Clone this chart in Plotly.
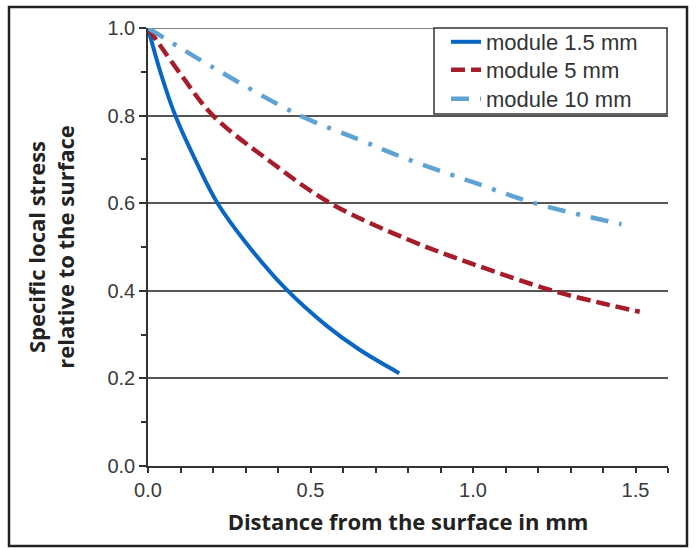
import plotly.graph_objects as go

# ---- data ----
x_m15 = [0.0, 0.04, 0.084, 0.15, 0.214, 0.30, 0.422, 0.55, 0.65, 0.773]
y_m15 = [1.0, 0.895, 0.80, 0.692, 0.60, 0.511, 0.406, 0.320, 0.266, 0.212]

x_m5 = [0.0, 0.10, 0.20, 0.38, 0.561, 0.80, 1.00, 1.246, 1.40, 1.513]
y_m5 = [1.0, 0.895, 0.80, 0.693, 0.60, 0.517, 0.461, 0.40, 0.371, 0.352]

x_m10 = [0.0, 0.20, 0.468, 0.65, 0.80, 1.00, 1.19, 1.457]
y_m10 = [1.0, 0.91, 0.80, 0.745, 0.70, 0.648, 0.60, 0.552]

names = ["module 1.5 mm", "module 5 mm", "module 10 mm"]
x_ticks = [0.0, 0.5, 1.0, 1.5]
x_tick_text = ["0.0", "0.5", "1.0", "1.5"]
y_ticks = [0.0, 0.2, 0.4, 0.6, 0.8, 1.0]
y_tick_text = ["0.0", "0.2", "0.4", "0.6", "0.8", "1.0"]

# ---- layout geometry (pixels) ----
W, H = 696, 548
L, R, T, B = 148, 28, 28, 82
pw, ph = W - L - R, H - T - B

def px_x(p):
    return (p - L) / pw

def px_y(p):
    return (H - B - p) / ph

fig = go.Figure()
fig.add_trace(go.Scatter(x=x_m15, y=y_m15, name=names[0], mode="lines", legend="legend",
                         line=dict(color="#0A66C2", width=4, shape="spline")))
fig.add_trace(go.Scatter(x=x_m5, y=y_m5, name=names[1], mode="lines", legend="legend2",
                         line=dict(color="#A51C2A", width=4.5, shape="spline", dash="14px,6px")))
fig.add_trace(go.Scatter(x=x_m10, y=y_m10, name=names[2], mode="lines", legend="legend3",
                         line=dict(color="#5EA3D3", width=4.5, shape="spline", dash="18px,11px,4px,11px")))

tick_font = dict(family="Liberation Sans, Arial", size=20, color="#3a3a3a")
title_font = dict(family="Open Sans, Lato", size=22, color="#222222")
leg_font = dict(family="Liberation Sans, Arial", size=22, color="#333333")

def leg(center_px):
    return dict(x=px_x(446), y=px_y(center_px), xanchor="left", yanchor="middle",
                bgcolor="rgba(0,0,0,0)", borderwidth=0, font=leg_font, itemwidth=30)

fig.update_layout(
    width=W, height=H,
    margin=dict(l=L, r=R, t=T, b=B, autoexpand=False),
    paper_bgcolor="white", plot_bgcolor="white",
    showlegend=True,
    legend=leg(42), legend2=leg(70), legend3=leg(99),
    xaxis=dict(range=[0, 1.6], tickvals=x_ticks, ticktext=x_tick_text,
               showgrid=False, zeroline=False,
               showline=True, linecolor="#333333", linewidth=1.5,
               ticks="outside", ticklen=5, tickwidth=1.5, tickcolor="#333333",
               minor=dict(dtick=0.1, tick0=0, ticks="outside", ticklen=5, tickwidth=1.5, tickcolor="#333333"),
               tickfont=tick_font,
               title=dict(text="<b>Distance from the surface in mm</b>", font=title_font, standoff=15)),
    yaxis=dict(range=[0, 1.0], tickvals=y_ticks, ticktext=y_tick_text,
               showgrid=True, gridcolor="#555555", gridwidth=1.5, zeroline=False,
               showline=True, linecolor="#333333", linewidth=1.5,
               ticks="outside", ticklen=7, tickwidth=1.5, tickcolor="#333333",
               minor=dict(dtick=0.1, tick0=0, ticks="outside", ticklen=5, tickwidth=1.5, tickcolor="#333333", showgrid=False),
               tickfont=tick_font,
               title=dict(text="<b>Specific local stress<br>relative to the surface</b>", font=title_font, standoff=27)),
)

# top gridline at 1.0, legend box and outer frame
fig.add_shape(type="line", xref="paper", yref="y", x0=0, x1=1, y0=1.0, y1=1.0,
              line=dict(color="#555555", width=1.5), layer="below")
fig.add_shape(type="rect", xref="paper", yref="paper",
              x0=px_x(434), x1=px_x(667), y0=px_y(114), y1=px_y(28),
              line=dict(color="#333333", width=1.5), fillcolor="white", layer="above")
fig.add_shape(type="rect", xref="paper", yref="paper",
              x0=px_x(9), x1=px_x(687), y0=px_y(546), y1=px_y(7),
              line=dict(color="#222222", width=2.5), layer="below")

fig.write_html("out.html", config={"displayModeBar": False},
               post_script="document.body.style.margin='0';document.body.style.overflow='hidden';")
